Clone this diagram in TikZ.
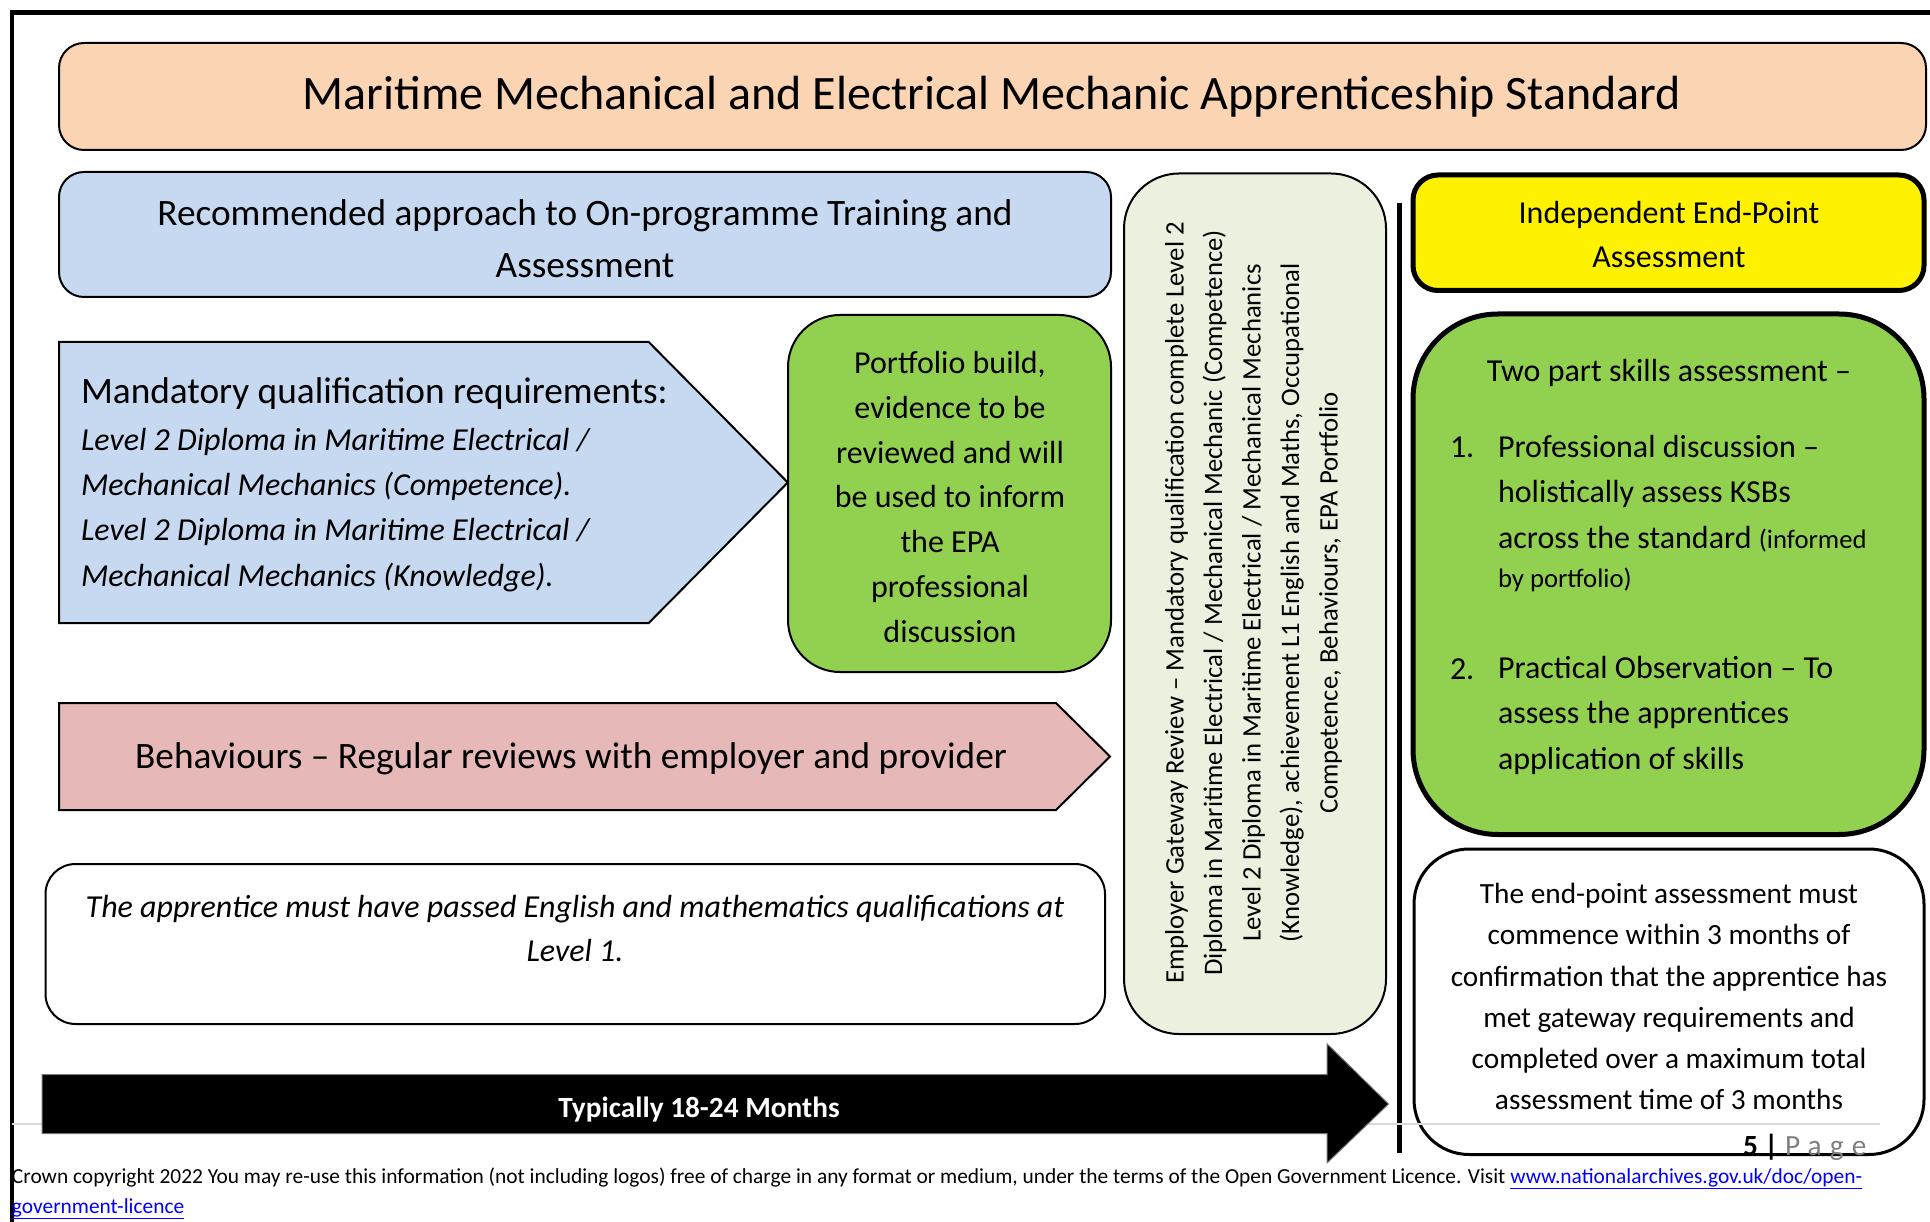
\documentclass[tikz,border=0pt]{standalone}
\usepackage{fontspec}
\setmainfont{Carlito}
\definecolor{peach}{HTML}{FBD4B4}
\definecolor{lblue}{HTML}{C6D9F1}
\definecolor{lgreen}{HTML}{92D050}
\definecolor{lpink}{HTML}{E6B9B8}
\definecolor{lsage}{HTML}{EBF1DE}
\definecolor{pagegray}{HTML}{7F7F7F}
\definecolor{linkblue}{HTML}{0000FF}
\newcommand{\myfs}[2]{\fontsize{#1pt}{#2pt}\selectfont}
\begin{document}
\begin{tikzpicture}[x=1pt,y=-1pt,
  thinbox/.style={draw=black, line width=2pt},
  thickbox/.style={draw=black, line width=5pt},
  txt/.style={inner sep=0pt, outer sep=0pt, text=black}]
\useasboundingbox (0,0) rectangle (1930,1222);
\fill[white] (0,0) rectangle (1930,1222);
% frame
\draw[line width=4.5pt] (12,1222) -- (12,12.5) -- (1930,12.5);
% title
\draw[thinbox, fill=peach, rounded corners=25pt] (59,43) rectangle (1926,150);
\node[txt, font=\myfs{48}{58}] (title) at (992,97) {Maritime Mechanical and Electrical Mechanic Apprenticeship Standard};
% recommended approach
\draw[thinbox, fill=lblue, rounded corners=25pt] (59,172) rectangle (1111,297);
\node[txt, align=center, font=\myfs{37.3}{52}] (rec) at (585,239) {Recommended approach to On-programme Training and\\Assessment};
% mandatory pentagon
\draw[thinbox, fill=lblue] (59,342) -- (648.7,342) -- (787.8,482.5) -- (648.7,623) -- (59,623) -- cycle;
\node[txt, anchor=base west, align=left, font=\myfs{32}{45.3}] (mand) at (81,586)
 {{\myfs{37.3}{45.3}Mandatory qualification requirements:}\\[1.7pt]
  \itshape Level 2 Diploma in Maritime Electrical /\\
  \itshape Mechanical Mechanics (Competence).\\
  \itshape Level 2 Diploma in Maritime Electrical /\\
  \itshape Mechanical Mechanics (Knowledge).};
% portfolio
\draw[thinbox, fill=lgreen, rounded corners=52pt] (788,315) rectangle (1111,672);
\node[txt, align=center, font=\myfs{32}{44.8}] (port) at (950,497)
 {Portfolio build,\\evidence to be\\reviewed and will\\be used to inform\\the EPA\\professional\\discussion};
% behaviours
\draw[thinbox, fill=lpink] (59,703) -- (1056,703) -- (1110,756.5) -- (1056,810) -- (59,810) -- cycle;
\node[txt, font=\myfs{37.3}{45}] (beh) at (571,758.5) {Behaviours – Regular reviews with employer and provider};
% english maths box
\draw[thinbox, fill=white, rounded corners=30pt] (45.5,864) rectangle (1105,1024);
\node[txt, align=center, font=\myfs{32}{44}\itshape] (eng) at (575,929)
 {The apprentice must have passed English and mathematics qualifications at\\Level 1.};
% gateway
\draw[thinbox, fill=lsage, rounded corners=55pt] (1124,173.5) rectangle (1386,1034);
\node[txt, rotate=90, align=center, font=\myfs{26.7}{38.5}] (gate) at (1253.5,603)
 {Employer Gateway Review – Mandatory qualification complete Level 2\\
  Diploma in Maritime Electrical / Mechanical Mechanic (Competence)\\
  Level 2 Diploma in Maritime Electrical / Mechanical Mechanics\\
  (Knowledge), achievement L1 English and Maths, Occupational\\
  Competence, Behaviours, EPA Portfolio};
% vertical divider
\draw[line width=5pt] (1399.5,203) -- (1399.5,1153);
% yellow EPA header
\draw[thickbox, fill=yellow, rounded corners=25pt] (1413,175) rectangle (1924,290.5);
\node[txt, align=center, font=\myfs{32}{44}] (iepa) at (1669,235) {Independent End-Point\\Assessment};
% EPA green
\draw[thickbox, fill=lgreen, rounded corners=85pt] (1413,314) rectangle (1924,834.5);
\node[txt, font=\myfs{32}{45.5}] (two) at (1669,373) {Two part skills assessment –};
\node[txt, anchor=base west, font=\myfs{32}{45.5}] (n1) at (1450,457) {1.};
\node[txt, anchor=base west, align=left, font=\myfs{32}{45.5}] (item1) at (1498,587)
 {Professional discussion –\\holistically assess KSBs\\across the standard {\myfs{26.7}{39}(informed}\\[-6.5pt]{\myfs{26.7}{39}by portfolio)}};
\node[txt, anchor=base west, font=\myfs{32}{45.5}] (n2) at (1450,679) {2.};
\node[txt, anchor=base west, align=left, font=\myfs{32}{45.5}] (item2) at (1498,769)
 {Practical Observation – To\\assess the apprentices\\application of skills};
% right white box
\draw[line width=3pt, draw=black, fill=white, rounded corners=55pt] (1414,849) rectangle (1924,1154.5);
\node[txt, align=center, font=\myfs{29.3}{41.1}] (epatime) at (1669,996.5)
 {The end-point assessment must\\commence within 3 months of\\confirmation that the apprentice has\\met gateway requirements and\\completed over a maximum total\\assessment time of 3 months};
% footer gray line
\draw[line width=2pt, draw=black!15] (12,1124) -- (1880,1124);
% black arrow
\draw[draw=black!55, line width=1pt, fill=black] (42,1074.6) -- (1327,1074.6) -- (1327,1043.8) -- (1388.5,1104) -- (1327,1163) -- (1327,1133.7) -- (42,1133.7) -- cycle;
\node[txt, text=white, font=\myfs{29.3}{35}\bfseries] (months) at (699,1110) {Typically 18-24 Months};
% page number
\node[txt, anchor=base west, font=\myfs{29.3}{35}] (page) at (1743,1155)
 {\textbf{5 |} \textcolor{pagegray}{\addfontfeatures{LetterSpace=28}Page}};
% copyright
\node[txt, anchor=base west, align=left, font=\myfs{21.4}{29.5}] (copy) at (12,1213)
 {Crown copyright 2022 You may re-use this information (not including logos) free of charge in any format or medium, under the terms of the Open Government Licence. Visit \textcolor{linkblue}{\underline{www.nationalarchives.gov.uk/doc/open-}}\\
  \textcolor{linkblue}{\underline{government-licence}}};
\end{tikzpicture}
\end{document}
